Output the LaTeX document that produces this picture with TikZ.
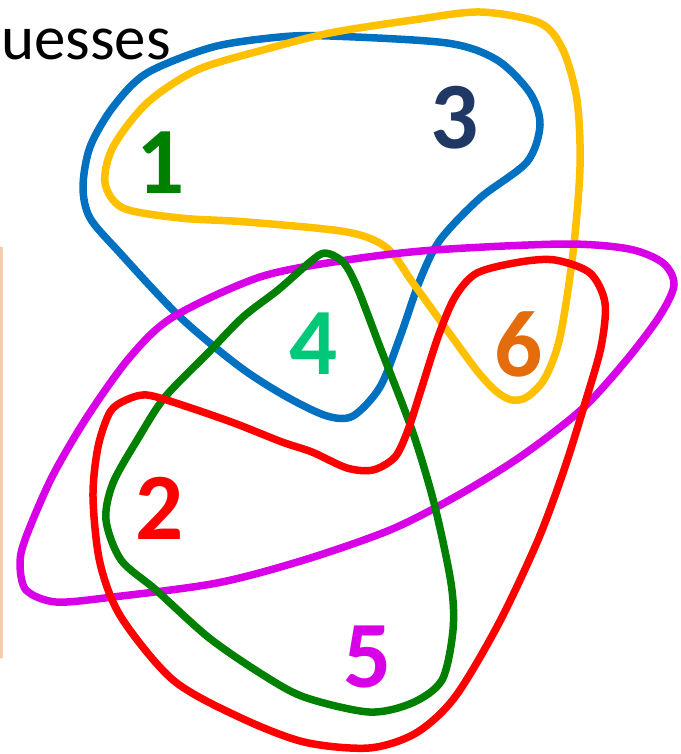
\documentclass[tikz,border=0pt]{standalone}
\usepackage{fontspec}
\setmainfont{Carlito}
\definecolor{cblue}{HTML}{0070C0}
\definecolor{cyellow}{HTML}{FFC000}
\definecolor{cmag}{HTML}{D800E6}
\definecolor{cgreen}{HTML}{008000}
\definecolor{cred}{HTML}{FF0000}
\definecolor{cnavy}{HTML}{1F3864}
\definecolor{cteal}{HTML}{00C878}
\definecolor{corange}{HTML}{E46C0A}
\definecolor{cpeach}{HTML}{F8CBAD}
\tikzset{
  setline/.style={line width=7.5pt, line join=round},
  numlabel/.style={inner sep=0pt, font=\fontsize{95}{95}\selectfont\bfseries},
}
\begin{document}
\begin{tikzpicture}[x=1pt,y=-1pt]
\useasboundingbox (0,0) rectangle (680,754);
% faint frame edge at left
\coordinate (ea) at (1,248);
\coordinate (eb) at (1,657);
\draw[cpeach, line width=3pt, line cap=round] (ea) -- (eb);
% title fragment
\node[anchor=base west, inner sep=0pt, font=\fontsize{63}{63}\selectfont] (title) at (1,60) {uesses};
% blue
\draw[setline, cblue] plot[smooth cycle] coordinates {(280,37) (330,36) (447,43) (497,60) (530,93) (540,125) (527,162) (480,198) (440,240) (420,280) (400,337) (380,387) (353,416) (327,416) (287,397) (240,367) (180,317) (120,253) (90,218) (83,187) (90,147) (113,107) (147,73) (213,47)};
% yellow
\draw[setline, cyellow] plot[smooth cycle] coordinates {(413,20) (480,12) (540,23) (563,50) (577,100) (580,167) (573,253) (560,337) (545,378) (527,397) (512,400) (497,392) (478,372) (447,330) (413,283) (387,248) (347,232) (247,222) (180,218) (123,208) (105,183) (113,147) (147,103) (197,70) (263,50) (330,33)};
% magenta
\draw[setline, cmag] plot[smooth cycle] coordinates {(347,260) (434,250) (564,244) (629,249) (663,263) (674,285) (659,317) (624,363) (581,410) (520,457) (455,497) (390,530) (304,560) (217,583) (113,597) (56,602) (26,590) (20,563) (26,537) (52,477) (87,417) (130,357) (173,317) (260,277)};
% green
\draw[setline, cgreen] plot[smooth cycle] coordinates {(325,253) (343,262) (357,287) (380,347) (412,430) (434,503) (451,583) (453,630) (442,680) (412,703) (369,712) (304,697) (260,673) (208,637) (156,590) (121,560) (106,520) (113,483) (139,437) (165,397) (208,353) (243,317) (278,290) (310,262)};
% red
\draw[setline, cred] plot[smooth cycle] coordinates {(126,400) (147,395) (182,405) (234,423) (282,442) (312,452) (347,468) (373,470) (395,457) (408,430) (421,390) (438,337) (455,297) (477,273) (520,262) (555,260) (590,273) (605,303) (601,347) (585,403) (564,470) (538,540) (499,623) (455,697) (416,733) (369,748) (304,742) (239,717) (173,680) (121,617) (100,563) (93,497) (98,447) (110,412)};
% labels
\node[numlabel, text=cgreen] (n1) at (161,163) {1};
\node[numlabel, text=cnavy] (n3) at (455,118) {3};
\node[numlabel, text=cteal] (n4) at (314,344) {4};
\node[numlabel, text=corange] (n6) at (519,344) {6};
\node[numlabel, text=cred] (n2) at (160,508) {2};
\node[numlabel, text=cmag] (n5) at (368,657) {5};
\end{tikzpicture}
\end{document}
